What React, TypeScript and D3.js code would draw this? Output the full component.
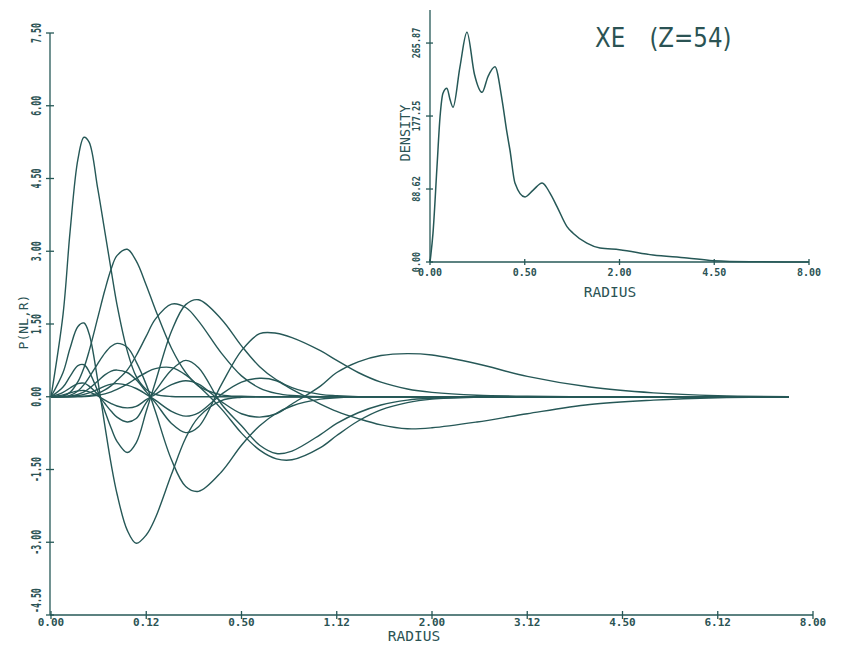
import React from "react";
import * as d3 from "d3";

// shared radius grid (bohr) for the radial functions
const radius = [0, 0.002, 0.005, 0.01, 0.015, 0.02, 0.03, 0.04, 0.05, 0.06, 0.08, 0.1, 0.125, 0.15, 0.2, 0.25, 0.3, 0.4, 0.5, 0.6, 0.7, 0.8, 1.0, 1.125, 1.3, 1.5, 1.75, 2.0, 2.5, 3.125, 4.0, 5.0, 6.125, 7.5];

const p1s = [0, 1.7, 3.4, 4.9, 5.35, 5.25, 4.3, 3.4, 2.6, 1.9, 0.95, 0.42, 0.15, 0.05, 0.005, 0, 0, 0, 0, 0, 0, 0, 0, 0, 0, 0, 0, 0, 0, 0, 0, 0, 0, 0];
const p2s = [0, 0.5, 1.0, 1.45, 1.52, 1.3, 0.35, -0.6, -1.4, -2.0, -2.75, -3.02, -2.85, -2.5, -1.6, -0.85, -0.42, -0.08, -0.01, 0, 0, 0, 0, 0, 0, 0, 0, 0, 0, 0, 0, 0, 0, 0];
const p2p = [0, 0.015, 0.09, 0.31, 0.6, 0.94, 1.62, 2.2, 2.64, 2.91, 3.04, 2.8, 2.3, 1.8, 1.0, 0.5, 0.22, 0.04, 0.01, 0, 0, 0, 0, 0, 0, 0, 0, 0, 0, 0, 0, 0, 0, 0];
const p3s = [0, 0.2, 0.42, 0.64, 0.66, 0.52, 0.12, -0.3, -0.65, -0.92, -1.15, -0.95, -0.3, 0.3, 1.35, 1.9, 2.0, 1.6, 1.05, 0.62, 0.35, 0.19, 0.05, 0.02, 0, 0, 0, 0, 0, 0, 0, 0, 0, 0];
const p3p = [0, 0.005, 0.03, 0.12, 0.25, 0.4, 0.68, 0.9, 1.04, 1.1, 1.02, 0.72, 0.25, -0.3, -1.3, -1.85, -1.95, -1.55, -1.0, -0.6, -0.34, -0.19, -0.05, -0.02, 0, 0, 0, 0, 0, 0, 0, 0, 0, 0];
const p3d = [0, 0, 0, 0.004, 0.011, 0.024, 0.07, 0.14, 0.23, 0.34, 0.55, 0.85, 1.25, 1.6, 1.91, 1.84, 1.56, 0.9, 0.43, 0.18, 0.07, 0.025, 0, 0, 0, 0, 0, 0, 0, 0, 0, 0, 0, 0];
const p4s = [0, 0.09, 0.18, 0.27, 0.28, 0.22, 0.05, -0.14, -0.3, -0.42, -0.52, -0.45, -0.12, 0.12, 0.55, 0.75, 0.6, -0.15, -0.6, -1.0, -1.17, -1.12, -0.78, -0.55, -0.33, -0.17, -0.07, -0.03, 0, 0, 0, 0, 0, 0];
const p4p = [0, 0.002, 0.012, 0.05, 0.1, 0.17, 0.32, 0.45, 0.53, 0.55, 0.5, 0.35, 0.1, -0.12, -0.55, -0.74, -0.62, 0.25, 0.95, 1.3, 1.31, 1.22, 0.95, 0.75, 0.5, 0.3, 0.16, 0.09, 0.03, 0.01, 0, 0, 0, 0];
const p4d = [0, 0, 0, 0.002, 0.005, 0.01, 0.03, 0.06, 0.1, 0.15, 0.26, 0.38, 0.5, 0.58, 0.6, 0.45, 0.22, -0.25, -0.75, -1.1, -1.28, -1.3, -1.05, -0.8, -0.5, -0.27, -0.12, -0.05, -0.01, 0, 0, 0, 0, 0];
const p5s = [0, 0.04, 0.08, 0.12, 0.13, 0.1, 0.02, -0.07, -0.14, -0.19, -0.23, -0.2, -0.06, 0.05, 0.25, 0.33, 0.26, -0.1, -0.35, -0.42, -0.35, -0.15, 0.22, 0.5, 0.72, 0.85, 0.89, 0.86, 0.68, 0.42, 0.2, 0.08, 0.02, 0];
const p5p = [0, 0.001, 0.006, 0.025, 0.05, 0.08, 0.15, 0.22, 0.26, 0.27, 0.24, 0.17, 0.05, -0.07, -0.3, -0.4, -0.33, 0.05, 0.3, 0.38, 0.33, 0.15, -0.15, -0.3, -0.45, -0.58, -0.66, -0.64, -0.52, -0.35, -0.16, -0.07, -0.02, 0];

// inset: total density
const densityRadius = [0, 0.0005, 0.0027, 0.0056, 0.0094, 0.016, 0.022, 0.0295, 0.05, 0.076, 0.11, 0.151, 0.187, 0.235, 0.289, 0.33, 0.356, 0.402, 0.503, 0.59, 0.7, 0.8, 0.9, 1.045, 1.14, 1.37, 1.61, 2.0, 2.77, 3.68, 4.46, 5.7, 8.0];
const densityValues = [0, 35, 115, 176, 205, 211, 198, 188, 237, 279, 228, 206, 225, 237, 197, 157, 136, 96, 79, 87, 96, 84, 67, 43, 35, 23, 17, 15, 8.5, 5, 1.5, 0.3, 0];

const mainXTicks = [0, 0.125, 0.5, 1.125, 2, 3.125, 4.5, 6.125, 8];
const mainXTickLabels = ["0.00", "0.12", "0.50", "1.12", "2.00", "3.12", "4.50", "6.12", "8.00"];
const mainYTicks = [-4.5, -3, -1.5, 0, 1.5, 3, 4.5, 6, 7.5];
const mainYTickLabels = ["-4.50", "-3.00", "-1.50", "0.00", "1.50", "3.00", "4.50", "6.00", "7.50"];
const insetXTicks = [0, 0.5, 2, 4.5, 8];
const insetXTickLabels = ["0.00", "0.50", "2.00", "4.50", "8.00"];
const insetYTicks = [0, 88.62, 177.25, 265.87];
const insetYTickLabels = ["0.00", "88.62", "177.25", "265.87"];

const orbitals = [p1s, p2s, p2p, p3s, p3p, p3d, p4s, p4p, p4d, p5s, p5p];

const INK = "#265857";
const TXT = "#2b5354";
const MONO = "'DejaVu Sans Mono', monospace";

export default function App() {
  const x = d3.scaleSqrt().domain([0, 8]).range([51, 813]);
  const y = d3.scaleLinear().domain([-4.5, 7.5]).range([615, 33]);
  const ix = d3.scaleSqrt().domain([0, 8]).range([430, 809]);
  const iy = d3.scaleLinear().domain([0, 306]).range([262, 10]);

  const line = d3
    .line<number>()
    .x((_, i) => x(radius[i]))
    .y((d) => y(d))
    .curve(d3.curveCatmullRom.alpha(0.5));

  const densLine = d3
    .line<number>()
    .x((_, i) => ix(densityRadius[i]))
    .y((d) => iy(d))
    .curve(d3.curveMonotoneX);

  const [x0, x1] = x.range();
  const [yb, yt] = y.range();

  return (
    <svg
      width={846}
      height={654}
      style={{ position: "fixed", left: 0, top: 0, background: "#fff" }}
    >
      <rect x={0} y={0} width={846} height={654} fill="#fff" />
      {/* main axes */}
      <g stroke={INK} strokeWidth={1.3} fill="none">
        <line x1={x0 - 1} x2={x0 - 1} y1={yt} y2={yb} />
        <line x1={x0 - 1} x2={x1} y1={yb} y2={yb} />
        {mainXTicks.map((t, i) => (
          <line key={"xt" + i} x1={x(t)} x2={x(t)} y1={yb - 4} y2={yb + 4} />
        ))}
        {mainYTicks.map((t, i) => (
          <line key={"yt" + i} x1={x0 - 5} x2={x0 + 3} y1={y(t)} y2={y(t)} />
        ))}
      </g>
      <g fill={TXT} fontFamily={MONO} fontSize={11} fontWeight="bold">
        {mainXTicks.map((t, i) => (
          <text key={"xl" + i} x={x(t)} y={623} textAnchor="middle" dominantBaseline="middle">
            {mainXTickLabels[i]}
          </text>
        ))}
        {mainYTicks.map((t, i) => (
          <text
            key={"yl" + i}
            transform={`translate(37,${i === 0 ? y(t) - 2 : y(t)}) rotate(-90) scale(0.75,1.3)`}
            textAnchor={i === 0 ? "start" : "middle"}
            dominantBaseline="middle"
          >
            {mainYTickLabels[i]}
          </text>
        ))}
      </g>
      <text x={414} y={637} textAnchor="middle" dominantBaseline="middle" fontFamily={MONO} fontSize={14.5} fill={TXT}>
        RADIUS
      </text>
      <text
        transform={`translate(24,322) rotate(-90)`}
        textAnchor="middle"
        dominantBaseline="middle"
        fontFamily={MONO}
        fontSize={13}
        fill={TXT}
      >
        P(NL,R)
      </text>

      {/* orbital curves */}
      <g fill="none" stroke={INK} strokeWidth={1.4}>
        {orbitals.map((s, i) => (
          <path key={"o" + i} d={line(s) || ""} />
        ))}
      </g>

      {/* inset */}
      <g stroke={INK} strokeWidth={1.3} fill="none">
        <line x1={430} x2={430} y1={10} y2={262} />
        <line x1={430} x2={809} y1={262} y2={262} />
        {insetXTicks.map((t, i) => (
          <line key={"ixt" + i} x1={ix(t)} x2={ix(t)} y1={259} y2={265} />
        ))}
        {insetYTicks.map((t, i) => (
          <line key={"iyt" + i} x1={426} x2={433} y1={iy(t)} y2={iy(t)} />
        ))}
        <path d={densLine(densityValues) || ""} strokeWidth={1.5} />
      </g>
      <g fill={TXT} fontFamily={MONO} fontSize={10} fontWeight="bold">
        {insetXTicks.map((t, i) => (
          <text key={"ixl" + i} x={ix(t)} y={273} textAnchor="middle" dominantBaseline="middle">
            {insetXTickLabels[i]}
          </text>
        ))}
        {insetYTicks.map((t, i) => (
          <text
            key={"iyl" + i}
            transform={`translate(417,${iy(t)}) rotate(-90) scale(0.85,1.1)`}
            textAnchor="middle"
            dominantBaseline="middle"
          >
            {insetYTickLabels[i]}
          </text>
        ))}
      </g>
      <text x={610} y={293} textAnchor="middle" dominantBaseline="middle" fontFamily={MONO} fontSize={14.5} fill={TXT}>
        RADIUS
      </text>
      <text
        transform={`translate(406,133) rotate(-90)`}
        textAnchor="middle"
        dominantBaseline="middle"
        fontFamily={MONO}
        fontSize={13.5}
        fill={TXT}
      >
        DENSITY
      </text>

      {/* title */}
      <g transform="translate(595,47) scale(0.85,1)" fill={TXT} fontFamily="'DejaVu Sans', sans-serif" fontSize={27}>
        <text x={0} y={0}>XE</text>
        <text x={64} y={0}>(Z=54)</text>
      </g>
    </svg>
  );
}
